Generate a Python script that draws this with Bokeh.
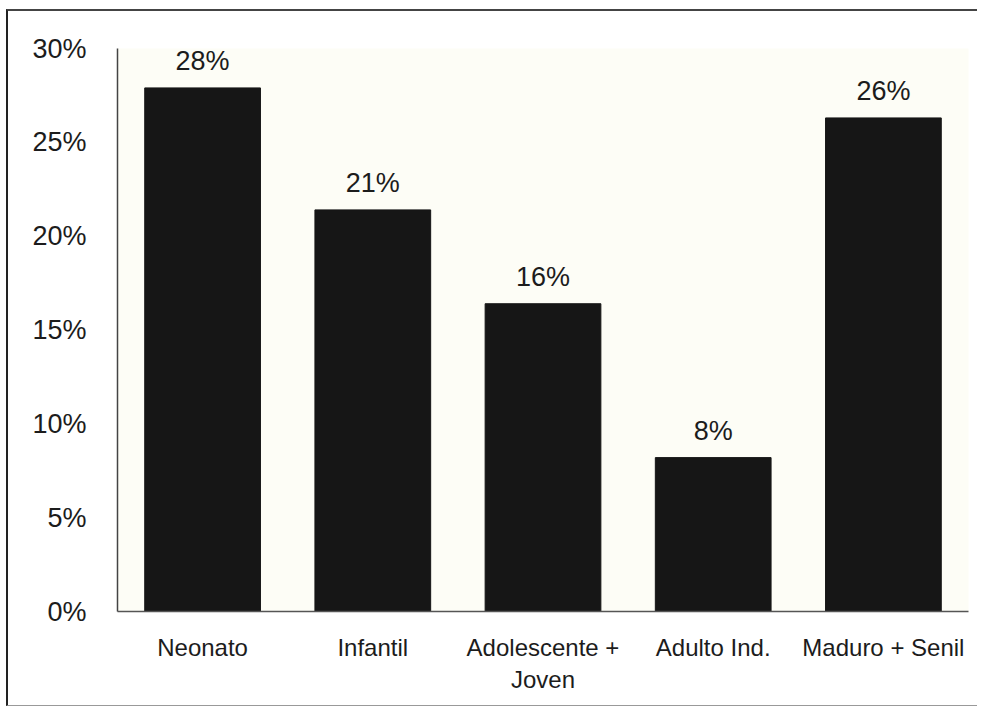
from bokeh.plotting import figure
from bokeh.models import ColumnDataSource, FixedTicker, NumeralTickFormatter, Range1d, FactorRange, LabelSet
from bokeh.core.properties import value
from bokeh.embed import file_html
from bokeh.resources import INLINE

categories = ["Neonato", "Infantil", "Adolescente +\nJoven", "Adulto Ind.", "Maduro + Senil"]
values = [0.279, 0.214, 0.164, 0.082, 0.263]
labels = ["{:.0%}".format(v) for v in values]
y_ticks = [0, 0.05, 0.10, 0.15, 0.20, 0.25, 0.30]

FONT = "Liberation Sans"
INK = "#1c1c1c"

src = ColumnDataSource(dict(cat=categories, val=values, lab=labels))

p = figure(x_range=FactorRange(*categories, range_padding=0.0),
           y_range=Range1d(0, 0.30),
           width=971, height=697,
           output_backend="svg", toolbar_location=None,
           min_border_left=109, min_border_right=11,
           min_border_top=37, min_border_bottom=97)
p.margin = (9, 0, 0, 6)
p.styles = {"border-left": "2px solid #222", "border-top": "2px solid #444",
            "border-bottom": "1px solid #999", "border-right": "none"}

p.vbar(x="cat", top="val", width=0.68, source=src,
       fill_color="#161616", line_color="#161616")

p.add_layout(LabelSet(x="cat", y="val", text="lab", source=src,
                      text_align="center", text_baseline="bottom",
                      y_offset=12, text_font=value(FONT), text_font_size="27px",
                      text_color=INK))

p.background_fill_color = "#fdfdf6"
p.border_fill_color = "white"
p.outline_line_color = None
p.xgrid.visible = False
p.ygrid.visible = False

p.yaxis.ticker = FixedTicker(ticks=y_ticks)
p.yaxis.formatter = NumeralTickFormatter(format="0%")
p.yaxis.major_tick_line_color = None
p.yaxis.minor_tick_line_color = None
p.yaxis.axis_line_color = "#444"
p.yaxis.axis_line_width = 1.5
p.yaxis.major_label_standoff = 25
p.yaxis.major_label_text_font = FONT
p.yaxis.major_label_text_font_size = "27px"
p.yaxis.major_label_text_color = INK

p.xaxis.major_tick_line_color = None
p.xaxis.minor_tick_line_color = None
p.xaxis.axis_line_color = "#555"
p.xaxis.axis_line_width = 1.5
p.xaxis.major_label_standoff = 16
p.xaxis.major_label_text_font = FONT
p.xaxis.major_label_text_font_size = "24px"
p.xaxis.major_label_text_color = INK

open("out.html", "w").write(file_html(p, INLINE))
